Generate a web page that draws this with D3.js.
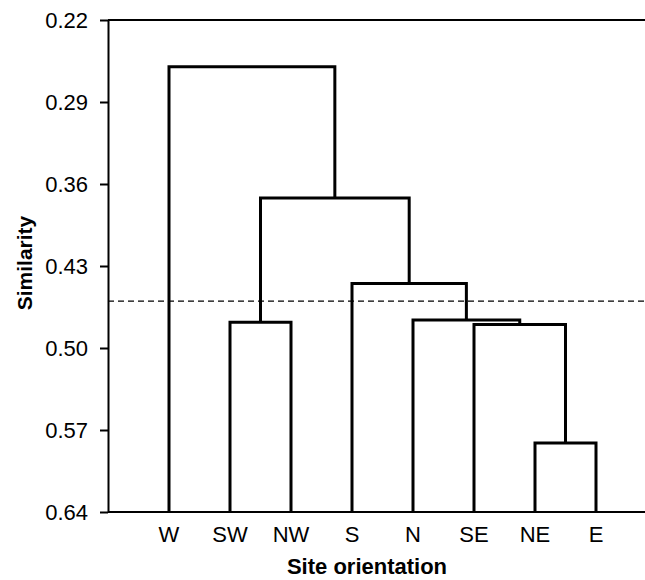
<!DOCTYPE html>
<html>
<head>
<meta charset="utf-8">
<script src="https://cdn.jsdelivr.net/npm/d3@7"></script>
<style>
  body { margin: 0; background: #fff; }
  svg { display: block; font-family: Arial, "Liberation Sans", sans-serif; }
</style>
</head>
<body>
<div class="svgcont"></div>
<script>
// leaves, left to right
const leafLabels = ["W", "SW", "NW", "S", "N", "SE", "NE", "E"];
// merges: m0..m6, each joins mergeA[i] and mergeB[i] at mergeHeight[i]
const mergeA = ["NE", "SW", "SE", "N", "S", "m1", "W"];
const mergeB = ["E", "NW", "m0", "m2", "m3", "m4", "m5"];
const mergeHeight = [0.581, 0.478, 0.480, 0.476, 0.445, 0.372, 0.260];
const cutLevel = 0.460;
const yTicks = [0.22, 0.29, 0.36, 0.43, 0.50, 0.57, 0.64];

const w = 645;
const h = 580;
const padLeft = 108;
const padTop = 20;
const padBottom = 512;
const step = 61;

let svg = d3.select(".svgcont").append("svg")
  .attr("width", w)
  .attr("height", h);

const xScale = d3.scaleLinear().domain([0, 9]).range([padLeft, padLeft + step * 9]);
const yScale = d3.scaleLinear().domain([0.22, 0.64]).range([padTop, padBottom]);

// node positions
let pos = {};
leafLabels.forEach((d, i) => {
  pos[d] = { x: xScale(i + 1), v: 0.64 };
});
mergeA.forEach((a, i) => {
  let b = mergeB[i];
  pos["m" + i] = { x: (pos[a].x + pos[b].x) / 2, v: mergeHeight[i] };
});

// y axis
const yAxis = d3.axisLeft(yScale)
  .tickValues(yTicks)
  .tickFormat(d3.format(".2f"))
  .tickSize(8)
  .tickPadding(12)
  .tickSizeOuter(0);

let gy = svg.append("g")
  .attr("transform", `translate(${padLeft},0)`)
  .call(yAxis);
gy.select(".domain").attr("stroke", "#000").attr("stroke-width", 2);
gy.selectAll(".tick line").attr("stroke", "#000").attr("stroke-width", 2);
gy.selectAll(".tick text")
  .attr("fill", "#000")
  .style("font-size", "22px")
  .attr("dy", "0.36em");

// top and bottom frame lines
svg.append("line")
  .attr("x1", padLeft).attr("x2", w)
  .attr("y1", yScale(0.22)).attr("y2", yScale(0.22))
  .attr("stroke", "#000").attr("stroke-width", 2);
svg.append("line")
  .attr("x1", padLeft).attr("x2", w)
  .attr("y1", yScale(0.64)).attr("y2", yScale(0.64))
  .attr("stroke", "#000").attr("stroke-width", 2);

// cut line
svg.append("line")
  .attr("x1", padLeft).attr("x2", w)
  .attr("y1", yScale(cutLevel)).attr("y2", yScale(cutLevel))
  .attr("stroke", "#000").attr("stroke-width", 1.3)
  .attr("stroke-dasharray", "6,4");

// dendrogram links
svg.selectAll("path.link")
  .data(mergeA.map((a, i) => [a, mergeB[i], "m" + i]))
  .enter()
  .append("path")
  .attr("class", "link")
  .attr("d", d => {
    let a = pos[d[0]], b = pos[d[1]], m = pos[d[2]];
    return "M" + a.x + "," + yScale(a.v) +
      "V" + yScale(m.v) +
      "H" + b.x +
      "V" + yScale(b.v);
  })
  .attr("fill", "none")
  .attr("stroke", "#000")
  .attr("stroke-width", 3)
  .attr("stroke-linejoin", "miter");

// leaf labels
svg.selectAll("text.leaf")
  .data(leafLabels)
  .enter()
  .append("text")
  .attr("class", "leaf")
  .attr("x", d => pos[d].x)
  .attr("y", 542)
  .attr("text-anchor", "middle")
  .style("font-size", "22px")
  .text(d => d);

// axis titles
svg.append("text")
  .attr("x", 367)
  .attr("y", 574)
  .attr("text-anchor", "middle")
  .style("font-size", "22px")
  .style("font-weight", "bold")
  .text("Site orientation");

svg.append("text")
  .attr("transform", "rotate(-90)")
  .attr("x", -263)
  .attr("y", 32)
  .attr("text-anchor", "middle")
  .style("font-size", "21px")
  .style("font-weight", "bold")
  .text("Similarity");
</script>
</body>
</html>
